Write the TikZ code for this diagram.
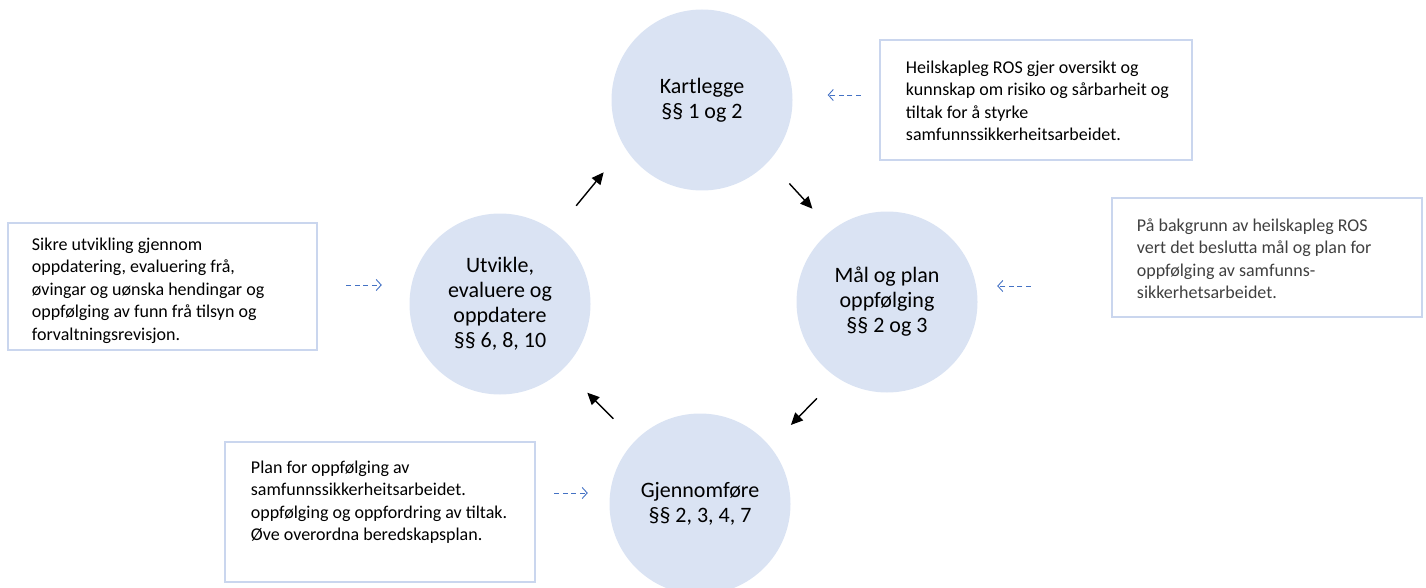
\documentclass[tikz,border=0pt]{standalone}
\usepackage{fontspec}
\setmainfont{Carlito}
\usetikzlibrary{calc,arrows.meta}
\definecolor{circfill}{HTML}{DAE3F3}
\definecolor{boxline}{HTML}{CAD6EE}
\definecolor{dashblue}{HTML}{4472C4}
\definecolor{graytext}{HTML}{404040}
\tikzset{
  phase/.style={circle, fill=circfill, minimum size=181pt, inner sep=0pt, align=center, font=\fontsize{22}{25}\selectfont},
  infobox/.style={rectangle, draw=boxline, line width=2.5pt, inner sep=0pt},
  boxtext/.style={anchor=west, align=left, inner sep=0pt, font=\fontsize{18}{22.5}\selectfont},
  cyclearrow/.style={line width=1.4pt, -{Triangle[length=12pt,width=11pt]}},
  hintarrow/.style={draw=dashblue, line width=0.9pt, dash pattern=on 5pt off 3.5pt, -{Straight Barb[length=5pt,width=11pt]}},
}
\begin{document}
\begin{tikzpicture}[x=1pt,y=-1pt]
\useasboundingbox (0,0) rectangle (1426,588);

% phase circles
\node[phase] (kart) at (702,100) {Kartlegge\\§§ 1 og 2};
\node[phase] (mal) at (887,302) {Mål og plan\\oppfølging\\§§ 2 og 3};
\node[phase] (gjen) at (700,504) {Gjennomføre\\§§ 2, 3, 4, 7};
\node[phase] (utv) at (500,304) {Utvikle,\\evaluere og\\oppdatere\\§§ 6, 8, 10};

% info boxes
\node[infobox, minimum width=312pt, minimum height=120pt] (b1) at (1036,100) {};
\node[infobox, minimum width=310pt, minimum height=119pt] (b2) at (1267,257.5) {};
\node[infobox, minimum width=309pt, minimum height=127pt] (b3) at (162.5,286.5) {};
\node[infobox, minimum width=310pt, minimum height=140pt] (b4) at (380,512) {};

\node[boxtext] (t1) at ($(b1.west)+(27,1)$) {Heilskapleg ROS gjer oversikt og\\kunnskap om risiko og sårbarheit og\\tiltak for å styrke\\samfunnssikkerheitsarbeidet.};
\node[boxtext, text=graytext] (t2) at ($(b2.west)+(26,1)$) {På bakgrunn av heilskapleg ROS\\vert det beslutta mål og plan for\\oppfølging av samfunns-\\sikkerhetsarbeidet.};
\node[boxtext] (t3) at ($(b3.west)+(25,4)$) {Sikre utvikling gjennom\\oppdatering, evaluering frå,\\øvingar og uønska hendingar og\\oppfølging av funn frå tilsyn og\\forvaltningsrevisjon.};
\node[boxtext] (t4) at ($(b4.west)+(27,-10)$) {Plan for oppfølging av\\samfunnssikkerheitsarbeidet.\\oppfølging og oppfordring av tiltak.\\Øve overordna beredskapsplan.};

% cycle arrows
\draw[cyclearrow] ($(utv)!0.43!(kart)!15pt!90:(kart)$) -- ($(utv)!0.58!(kart)!19pt!90:(kart)$);
\draw[cyclearrow] ($(kart)!0.44!(mal)!8pt!90:(mal)$) -- ($(kart)!0.565!(mal)!8pt!90:(mal)$);
\draw[cyclearrow] ($(mal)!0.43!(gjen)!14pt!90:(gjen)$) -- ($(mal)!0.565!(gjen)!13pt!90:(gjen)$);
\draw[cyclearrow] ($(gjen)!0.43!(utv)!1pt!90:(utv)$) -- ($(gjen)!0.56!(utv)!1pt!90:(utv)$);

% dashed hint arrows
\draw[hintarrow] ($(b1.west)+(-18,-5)$) -- ($(kart.east)+(35,-5)$);
\draw[hintarrow] ($(b2.west)+(-80,28.5)$) -- ($(mal.east)+(19.5,-16)$);
\draw[hintarrow] ($(b3.east)+(28,-1.5)$) -- ($(utv.west)+(-27.5,-19)$);
\draw[hintarrow] ($(b4.east)+(18,-19)$) -- ($(gjen.west)+(-21.5,-11)$);
\end{tikzpicture}
\end{document}
